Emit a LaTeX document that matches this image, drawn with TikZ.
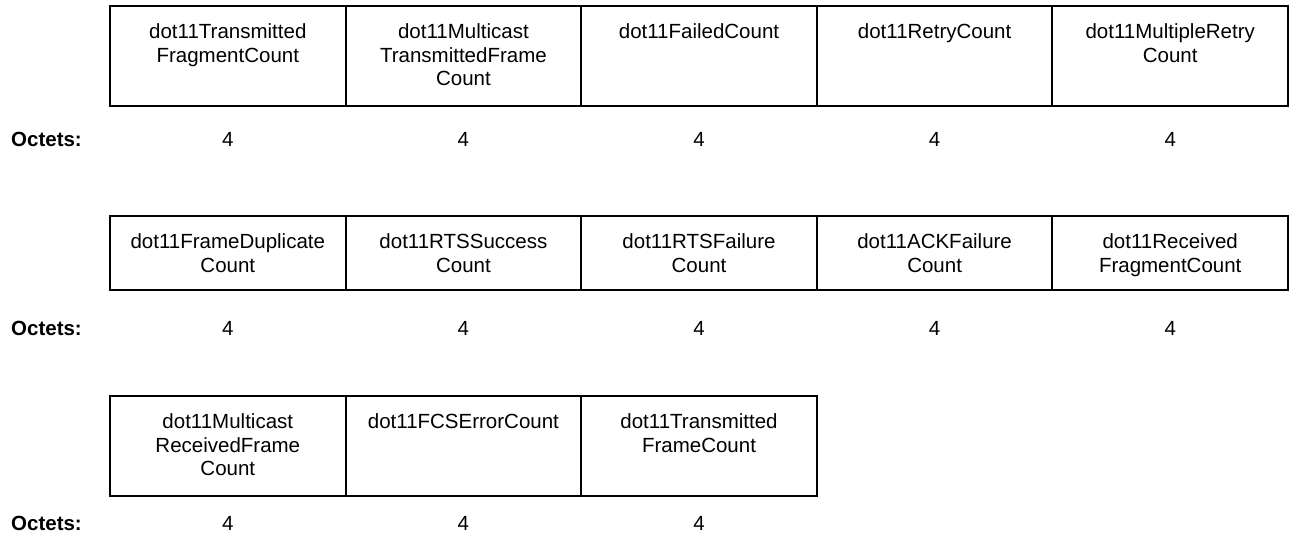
\documentclass[tikz,border=0pt]{standalone}
\usepackage{fontspec}
\setmainfont{Liberation Sans}
\begin{document}
\begin{tikzpicture}[x=1pt,y=-1pt,
  fieldbox/.style={draw, line width=2pt, anchor=north west, minimum width=235.6pt, inner sep=0pt},
  tallbox/.style={fieldbox, minimum height=100pt},
  shortbox/.style={fieldbox, minimum height=74pt},
  fieldtext/.style={anchor=north, inner sep=0pt, align=center, font=\fontsize{20.5pt}{23.3pt}\selectfont},
  octlabel/.style={anchor=base west, inner sep=0pt, font=\fontsize{20.5pt}{23.3pt}\selectfont\bfseries},
  octval/.style={anchor=base, inner sep=0pt, font=\fontsize{20.5pt}{23.3pt}\selectfont}]
\useasboundingbox (0,0) rectangle (1289,533);

% first row of counters
\node[tallbox] (a1) at (109,5) {};
\node[tallbox] (a2) at (344.6,5) {};
\node[tallbox] (a3) at (580.2,5) {};
\node[tallbox] (a4) at (815.8,5) {};
\node[tallbox] (a5) at (1051.4,5) {};
\node[fieldtext] (ta1) at ([yshift=-18.8pt]a1.north) {dot11Transmitted\\FragmentCount};
\node[fieldtext] (ta2) at ([yshift=-18.8pt]a2.north) {dot11Multicast\\TransmittedFrame\\Count};
\node[fieldtext] (ta3) at ([yshift=-18.8pt]a3.north) {dot11FailedCount};
\node[fieldtext] (ta4) at ([yshift=-18.8pt]a4.north) {dot11RetryCount};
\node[fieldtext] (ta5) at ([yshift=-18.8pt]a5.north) {dot11MultipleRetry\\Count};
\node[octlabel] (oa) at (11,146.7) {Octets:};
\node[octval] (va1) at (a1.south |- oa.base) {4};
\node[octval] (va2) at (a2.south |- oa.base) {4};
\node[octval] (va3) at (a3.south |- oa.base) {4};
\node[octval] (va4) at (a4.south |- oa.base) {4};
\node[octval] (va5) at (a5.south |- oa.base) {4};

% second row of counters
\node[shortbox] (b1) at (109,215) {};
\node[shortbox] (b2) at (344.6,215) {};
\node[shortbox] (b3) at (580.2,215) {};
\node[shortbox] (b4) at (815.8,215) {};
\node[shortbox] (b5) at (1051.4,215) {};
\node[fieldtext] (tb1) at ([yshift=-18.8pt]b1.north) {dot11FrameDuplicate\\Count};
\node[fieldtext] (tb2) at ([yshift=-18.8pt]b2.north) {dot11RTSSuccess\\Count};
\node[fieldtext] (tb3) at ([yshift=-18.8pt]b3.north) {dot11RTSFailure\\Count};
\node[fieldtext] (tb4) at ([yshift=-18.8pt]b4.north) {dot11ACKFailure\\Count};
\node[fieldtext] (tb5) at ([yshift=-18.8pt]b5.north) {dot11Received\\FragmentCount};
\node[octlabel] (ob) at (11,335) {Octets:};
\node[octval] (vb1) at (b1.south |- ob.base) {4};
\node[octval] (vb2) at (b2.south |- ob.base) {4};
\node[octval] (vb3) at (b3.south |- ob.base) {4};
\node[octval] (vb4) at (b4.south |- ob.base) {4};
\node[octval] (vb5) at (b5.south |- ob.base) {4};

% third row of counters
\node[tallbox] (c1) at (109,395) {};
\node[tallbox] (c2) at (344.6,395) {};
\node[tallbox] (c3) at (580.2,395) {};
\node[fieldtext] (tc1) at ([yshift=-18.8pt]c1.north) {dot11Multicast\\ReceivedFrame\\Count};
\node[fieldtext] (tc2) at ([yshift=-18.8pt]c2.north) {dot11FCSErrorCount};
\node[fieldtext] (tc3) at ([yshift=-18.8pt]c3.north) {dot11Transmitted\\FrameCount};
\node[octlabel] (oc) at (11,530) {Octets:};
\node[octval] (vc1) at (c1.south |- oc.base) {4};
\node[octval] (vc2) at (c2.south |- oc.base) {4};
\node[octval] (vc3) at (c3.south |- oc.base) {4};
\end{tikzpicture}
\end{document}
